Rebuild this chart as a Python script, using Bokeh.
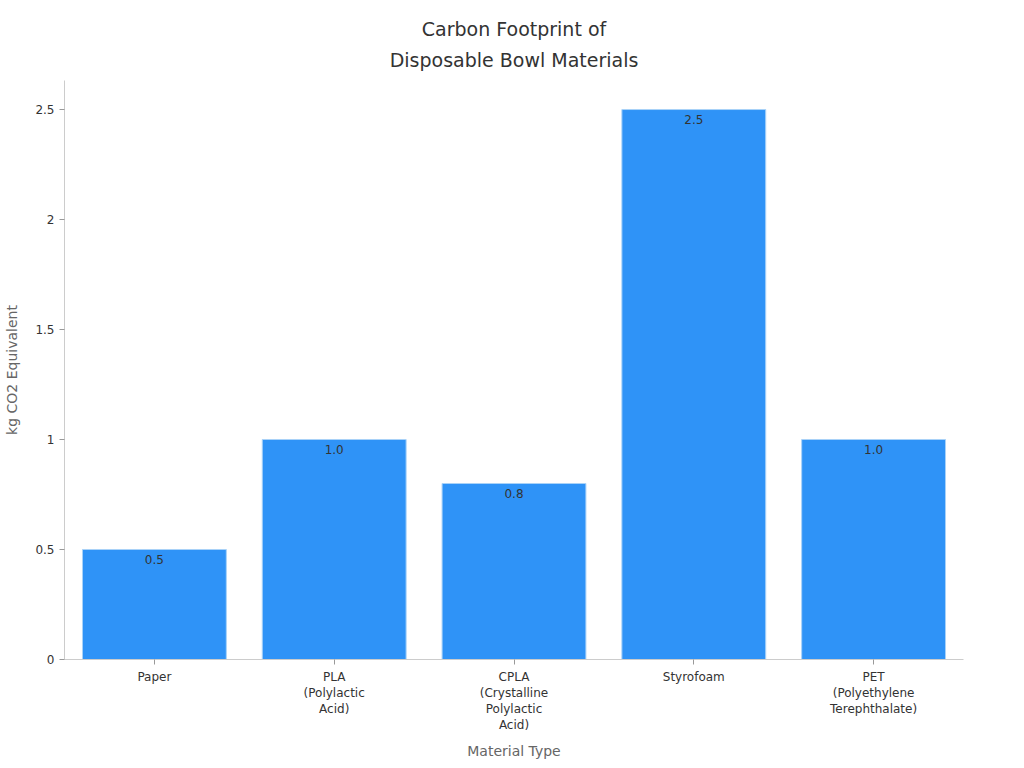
from bokeh.plotting import figure
from bokeh.models import ColumnDataSource, FixedTicker, NumeralTickFormatter, Range1d, FactorRange, Title
from bokeh.embed import file_html
from bokeh.resources import INLINE
from bokeh.core.properties import value

materials = ["Paper", "PLA\n(Polylactic\nAcid)", "CPLA\n(Crystalline\nPolylactic\nAcid)", "Styrofoam",
             "PET\n(Polyethylene\nTerephthalate)"]
co2 = [0.5, 1.0, 0.8, 2.5, 1.0]
co2_text = ["0.5", "1.0", "0.8", "2.5", "1.0"]
y_ticks = [0, 0.5, 1, 1.5, 2, 2.5]
title_lines = ["Carbon Footprint of", "Disposable Bowl Materials"]

FONT = "DejaVu Sans"

src = ColumnDataSource(dict(x=materials, top=co2, label=co2_text))

p = figure(x_range=FactorRange(*materials, range_padding=0), y_range=Range1d(0, 2.632),
           width=1010, height=761, output_backend="svg", toolbar_location=None,
           min_border_left=64, min_border_right=47, min_border_top=80, min_border_bottom=101)

p.title.text = title_lines[0]
line2 = Title(text=title_lines[1])
p.add_layout(line2, "above")
for t in (p.title, line2):
    t.align = "center"
    t.text_font = FONT
    t.text_font_size = "19px"
    t.text_font_style = "normal"
    t.text_color = "#333333"
p.title.standoff = -4
line2.standoff = 19

p.vbar(x="x", top="top", width=0.8, source=src, fill_color="#2f93f7",
       line_color="#a9d2f8", line_width=1)
p.text(x="x", y="top", text="label", source=src, text_align="center", text_baseline="top",
       y_offset=5, text_font=value(FONT), text_font_size="12px", text_color="#333333")

p.xgrid.visible = False
p.ygrid.visible = False
p.outline_line_color = None

for ax in (p.xaxis[0], p.yaxis[0]):
    ax.axis_line_color = "#cccccc"
    ax.major_tick_line_color = "#999999"
    ax.minor_tick_line_color = None
    ax.major_tick_in = 0
    ax.major_tick_out = 5
    ax.major_label_text_font = FONT
    ax.major_label_text_font_size = "12px"
    ax.major_label_text_color = "#333333"
    ax.axis_label_text_font = FONT
    ax.axis_label_text_font_size = "14px"
    ax.axis_label_text_font_style = "normal"
    ax.axis_label_text_color = "#666666"

p.xaxis.axis_label = "Material Type"
p.xaxis.major_label_standoff = 5
p.xaxis.major_label_text_line_height = 1.15
p.xaxis.axis_label_standoff = 8
p.yaxis.axis_label = "kg CO2 Equivalent"
p.yaxis.ticker = FixedTicker(ticks=y_ticks)
p.yaxis.formatter = NumeralTickFormatter(format="0.[0]")
p.yaxis.axis_label_standoff = 12

open("out.html", "w").write(file_html(p, INLINE))
